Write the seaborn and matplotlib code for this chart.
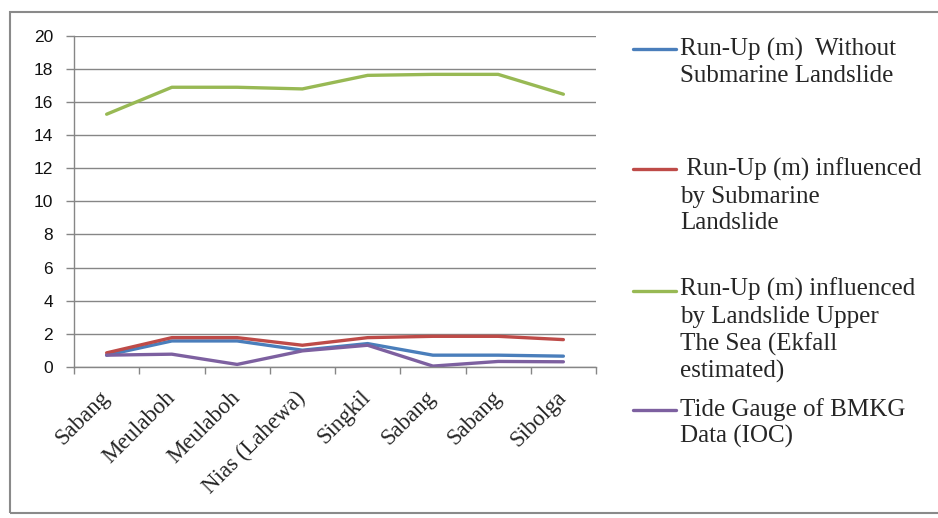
import matplotlib
matplotlib.use('Agg')
import matplotlib.pyplot as plt
import matplotlib.patches as mpatches
from matplotlib.legend_handler import HandlerLine2D
from matplotlib.lines import Line2D
from matplotlib.transforms import ScaledTranslation
import seaborn as sns
import pandas as pd
import numpy as np

# data
locations = ['Sabang', 'Meulaboh', 'Meulaboh', 'Nias (Lahewa)', 'Singkil',
             'Sabang', 'Sabang', 'Sibolga']
without_landslide = [0.7, 1.56, 1.56, 1.0, 1.4, 0.7, 0.7, 0.64]
submarine_landslide = [0.84, 1.76, 1.76, 1.3, 1.76, 1.84, 1.84, 1.64]
upper_sea_landslide = [15.27, 16.9, 16.9, 16.8, 17.62, 17.68, 17.68, 16.48]
tide_gauge = [0.7, 0.76, 0.14, 0.96, 1.3, 0.04, 0.32, 0.3]

series_names = ['Run-Up (m)  Without\nSubmarine Landslide',
                ' Run-Up (m) influenced\nby Submarine\nLandslide',
                'Run-Up (m) influenced\nby Landslide Upper\nThe Sea (Ekfall\nestimated)',
                'Tide Gauge of BMKG\nData (IOC)']
colors = ['#4A7EBB', '#BE4B48', '#98B954', '#7D60A0']

df = pd.DataFrame({
    'pos': list(range(len(locations))) * 4,
    'value': without_landslide + submarine_landslide + upper_sea_landslide + tide_gauge,
    'series': np.repeat(series_names, len(locations)),
})

sns.set_style('white')
plt.rcParams['font.family'] = ['Liberation Serif', 'DejaVu Serif']

fig = plt.figure(figsize=(9.38, 5.18), dpi=100)
ax = fig.add_axes([0.0789, 0.292, 0.5565, 0.6385])

sns.lineplot(data=df, x='pos', y='value', hue='series', palette=colors,
             linewidth=2.4, ax=ax, legend=False, sort=False)

ax.set_xlim(-0.5, len(locations) - 0.5)
ax.set_ylim(0, 20)
ax.set_yticks(range(0, 21, 2))
ax.set_yticklabels([str(v) for v in range(0, 21, 2)],
                   family='Liberation Sans', fontsize=12.5, color='#111111')
ax.set_xticks(range(len(locations)))
ax.set_xticklabels(locations, rotation=45, ha='right', va='center',
                   rotation_mode='anchor', fontsize=16.5)
shift = ScaledTranslation(8 / 100, 0, fig.dpi_scale_trans)
for lab in ax.get_xticklabels():
    lab.set_transform(lab.get_transform() + shift)
ax.set_xticks(np.arange(-0.5, len(locations), 1), minor=True)
ax.tick_params(axis='x', which='major', length=0, pad=20)
ax.tick_params(axis='x', which='minor', length=5, width=1, color='#868686',
               direction='out', bottom=True)
ax.tick_params(axis='y', length=6, width=1, color='#868686', direction='out',
               left=True, pad=9)
ax.set_xlabel('')
ax.set_ylabel('')
ax.yaxis.grid(True, color='#868686', linewidth=1)
ax.set_axisbelow(True)
for side in ['top', 'right']:
    ax.spines[side].set_visible(False)
for side in ['left', 'bottom']:
    ax.spines[side].set_color('#868686')
    ax.spines[side].set_linewidth(1)


class TopLineHandler(HandlerLine2D):
    # put the legend line at the first text row of a multi-line label
    def __init__(self, nlines, fontsize, **kw):
        super().__init__(**kw)
        self.shift = (nlines - 1) / 2 * 1.06 * fontsize

    def create_artists(self, legend, orig_handle, xdescent, ydescent,
                       width, height, fontsize, trans):
        arts = super().create_artists(legend, orig_handle, xdescent, ydescent,
                                      width, height, fontsize, trans)
        for a in arts:
            a.set_ydata(np.asarray(a.get_ydata()) + self.shift)
        return arts


leg_fs = 18
tops = [0.9266, 0.695, 0.4633, 0.2317]
for name, col, top in zip(series_names, colors, tops):
    h = Line2D([], [], color=col, linewidth=2.4)
    n = name.count('\n') + 1
    leg = fig.legend([h], [name], loc='upper left',
                     bbox_to_anchor=(0.6748, top), frameon=False,
                     fontsize=leg_fs, handlelength=1.72, handletextpad=0.16,
                     borderaxespad=0, borderpad=0,
                     handler_map={h: TopLineHandler(n, leg_fs)})
    for t in leg.get_texts():
        t.set_linespacing(1.25)

border = mpatches.Rectangle((10 / 938, 5 / 518), 1.2, 1 - 17 / 518,
                            transform=fig.transFigure, fill=False,
                            edgecolor='#8a8a8a', linewidth=1.5, clip_on=False)
fig.patches.append(border)

fig.savefig('out.png', dpi=100)
